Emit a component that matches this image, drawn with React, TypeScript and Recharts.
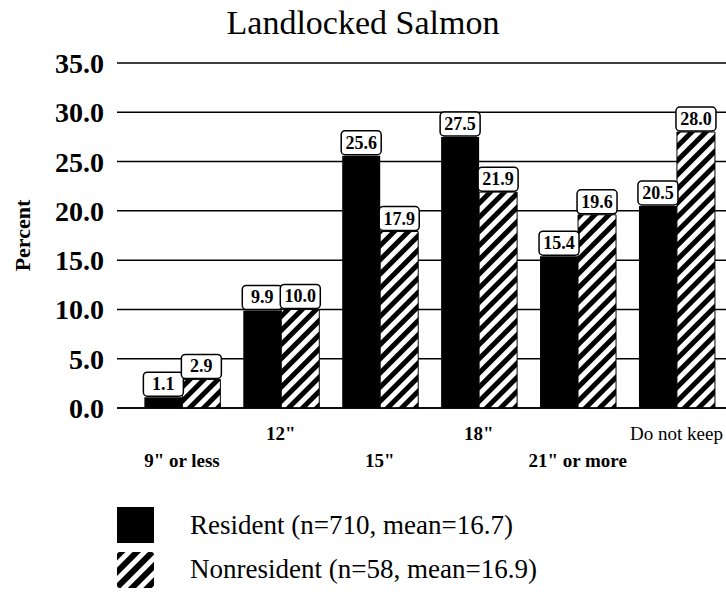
import { BarChart, Bar, XAxis, YAxis, CartesianGrid, Legend, LabelList } from 'recharts'

const categories = ['9" or less', '12"', '15"', '18"', '21" or more', 'Do not keep']
const residentValues = [1.1, 9.9, 25.6, 27.5, 15.4, 20.5]
const nonresidentValues = [2.9, 10.0, 17.9, 21.9, 19.6, 28.0]
const yTicks = [0, 5, 10, 15, 20, 25, 30, 35]
const seriesNames = ['Resident (n=710, mean=16.7)', 'Nonresident (n=58, mean=16.9)']

const chartData = categories.map((cat, i) => ({
  cat,
  resident: residentValues[i],
  nonresident: nonresidentValues[i],
}))

const SERIF = '"Liberation Serif", "Times New Roman", serif'

// white rounded box holding the value, sitting on top of the bar
function ValueBox(props: any) {
  const { x, y, width, value } = props
  const bw = width + 2
  const bh = 24
  return (
    <g>
      <rect x={x - 1} y={y - bh - 1} width={bw} height={bh} rx={4} fill="#fff" stroke="#000" strokeWidth={1.5} />
      <text x={x + width / 2} y={y - 7} textAnchor="middle" fontFamily={SERIF} fontWeight="bold" fontSize={18} fill="#000">
        {Number(value).toFixed(1)}
      </text>
    </g>
  )
}

// category labels alternate between two rows
function StaggerTick(props: any) {
  const { x, y, payload, index } = props
  const upper = index % 2 === 1
  return (
    <text
      x={x}
      y={y + (upper ? 32 : 59)}
      textAnchor="middle"
      fontFamily={SERIF}
      fontWeight={payload.value === 'Do not keep' ? 'normal' : 'bold'}
      fontSize={19}
      fill="#000"
    >
      {payload.value}
    </text>
  )
}

function PercentLabel(props: any) {
  const { viewBox } = props
  const cx = viewBox.x + 30
  const cy = viewBox.y + viewBox.height / 2
  return (
    <text x={cx} y={cy} transform={`rotate(-90, ${cx}, ${cy})`} textAnchor="middle" fontFamily={SERIF} fontWeight="bold" fontSize={22} fill="#000">
      Percent
    </text>
  )
}

function LegendBox() {
  return (
    <div style={{ position: 'relative', width: 726, height: 90, fontFamily: SERIF, fontSize: 27, color: '#000' }}>
      <div style={{ position: 'absolute', left: 117, top: 4, width: 37, height: 36, background: '#000' }} />
      <div style={{ position: 'absolute', left: 190, top: 4, lineHeight: '36px' }}>{seriesNames[0]}</div>
      <svg style={{ position: 'absolute', left: 117, top: 49 }} width={37} height={36}>
        <rect width={37} height={36} rx={3} fill="url(#hatchLegend)" />
      </svg>
      <div style={{ position: 'absolute', left: 190, top: 48, lineHeight: '36px' }}>{seriesNames[1]}</div>
    </div>
  )
}

export default function App() {
  return (
    <div style={{ position: 'relative', width: 726, height: 593, background: '#fff' }}>
      <style>{`body{margin:0;background:#fff}`}</style>
      <div
        style={{
          position: 'absolute',
          left: 0,
          top: 3,
          width: 726,
          textAlign: 'center',
          fontFamily: SERIF,
          fontSize: 34,
          lineHeight: '40px',
          color: '#000',
        }}
      >
        Landlocked Salmon
      </div>
      <BarChart
        width={726}
        height={593}
        data={chartData}
        margin={{ top: 63, right: 0, bottom: 0, left: 0 }}
        barGap={0}
        barCategoryGap="12%"
      >
        <defs>
          <pattern id="hatch" width={10} height={10} patternUnits="userSpaceOnUse" patternTransform="rotate(45)">
            <rect width={10} height={10} fill="#fff" />
            <rect width={5} height={10} fill="#000" />
          </pattern>
          <pattern id="hatchLegend" width={11} height={11} patternUnits="userSpaceOnUse" patternTransform="rotate(45)">
            <rect width={11} height={11} fill="#fff" />
            <rect width={6} height={11} fill="#000" />
          </pattern>
        </defs>
        <CartesianGrid horizontal vertical={false} stroke="#000" strokeWidth={1.5} />
        <XAxis
          dataKey="cat"
          interval={0}
          height={95}
          tickSize={0}
          tickMargin={0}
          axisLine={{ stroke: '#000', strokeWidth: 1.5 }}
          tickLine={false}
          padding={{ left: 15.5, right: 0 }}
          tick={<StaggerTick />}
        />
        <YAxis
          domain={[0, 35]}
          ticks={yTicks}
          width={117}
          tickSize={0}
          tickMargin={13}
          axisLine={false}
          tickLine={false}
          tickFormatter={(v: number) => v.toFixed(1)}
          tick={{ fontFamily: SERIF, fontSize: 28, fontWeight: 'bold', fill: '#000' }}
          label={<PercentLabel />}
        />
        <Legend verticalAlign="bottom" align="left" wrapperStyle={{ width: 726 }} content={() => <LegendBox />} />
        <Bar dataKey="resident" name={seriesNames[0]} fill="#000" isAnimationActive={false}>
          <LabelList dataKey="resident" content={<ValueBox />} />
        </Bar>
        <Bar dataKey="nonresident" name={seriesNames[1]} fill="url(#hatch)" stroke="#000" strokeWidth={1} isAnimationActive={false}>
          <LabelList dataKey="nonresident" content={<ValueBox />} />
        </Bar>
      </BarChart>
    </div>
  )
}
